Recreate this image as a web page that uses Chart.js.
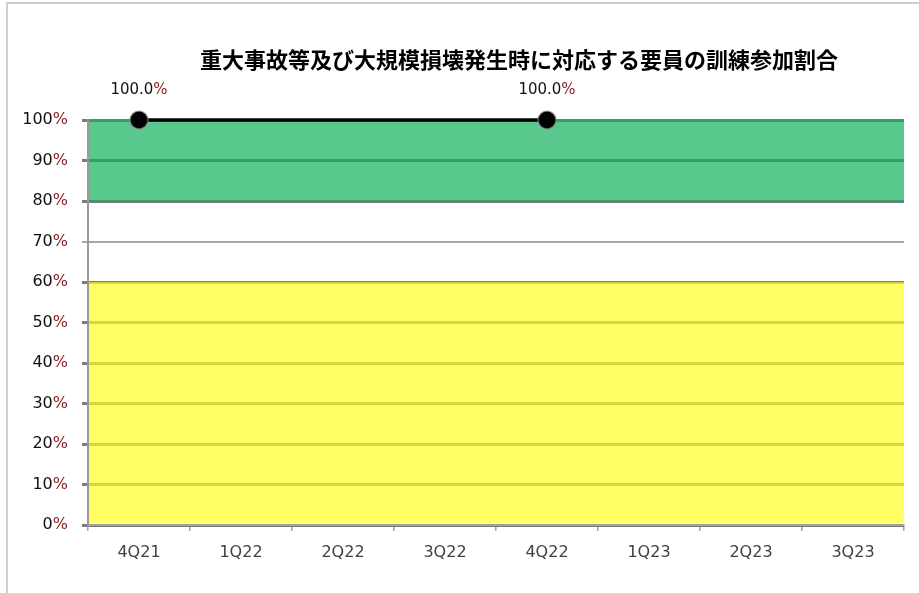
<!DOCTYPE html>
<html>
<head>
<meta charset="utf-8">
<script src="https://cdn.jsdelivr.net/npm/chart.js@4/dist/chart.umd.min.js"></script>
<style>
  html, body { margin: 0; padding: 0; background: #fff; }
  #wrap { position: relative; width: 919px; height: 593px; }
  #frame { position: absolute; left: 6px; top: 2px; right: -4px; bottom: -4px;
           border: 2px solid #cfcfcf; pointer-events: none; }
</style>
</head>
<body>
<div id="wrap">
  <canvas id="chart" width="919" height="593"></canvas>
  <div id="frame"></div>
</div>
<script>
// quarters on the x axis
var quarters = ["4Q21", "1Q22", "2Q22", "3Q22", "4Q22", "1Q23", "2Q23", "3Q23"];
// training participation rate (%), only reported quarters have a value
var participation = [100, null, null, null, 100, null, null, null];
// y tick values
var yTicks = [0, 10, 20, 30, 40, 50, 60, 70, 80, 90, 100];
// judgement bands (low / high edge in %)
var bandLow = [80, 0];
var bandHigh = [100, 60];
var bandColors = ["rgba(19,176,91,0.7)", "rgba(255,255,34,0.7)"];

var chartTitle = "重大事故等及び大規模損壊発生時に対応する要員の訓練参加割合";
var labelFont = "DejaVu Sans";
var pctRed = "#8b2323";

// draws "NN" in black and "%" in dark red, like the original sheet
function drawPct(ctx, num, x, y, align) {
    var w1 = ctx.measureText(num).width;
    var w2 = ctx.measureText("%").width;
    var start = align === "right" ? x - w1 - w2 : x - (w1 + w2) / 2;
    ctx.textAlign = "left";
    ctx.fillStyle = "#111";
    ctx.fillText(num, start, y);
    ctx.fillStyle = pctRed;
    ctx.fillText("%", start + w1, y);
}

// true when a grid value sits in the uncoloured gap between the bands
function inGap(v) {
    for (var i = 0; i < bandLow.length; i++) {
        if (v >= bandLow[i] && v <= bandHigh[i]) return false;
    }
    return true;
}

var bandsPlugin = {
    id: "bands",
    beforeDatasetsDraw: function(chart) {
        var ctx = chart.ctx, area = chart.chartArea, y = chart.scales.y;
        ctx.save();
        for (var i = 0; i < bandLow.length; i++) {
            var top = y.getPixelForValue(bandHigh[i]);
            var bot = y.getPixelForValue(bandLow[i]);
            ctx.fillStyle = bandColors[i];
            ctx.fillRect(area.left + 1, top, area.right - area.left - 1, bot - top - (bandLow[i] === 0 ? 2 : 0));
        }
        ctx.restore();
    }
};

var textPlugin = {
    id: "texts",
    afterDraw: function(chart) {
        var ctx = chart.ctx, y = chart.scales.y;
        ctx.save();
        // title
        ctx.font = "bold 22px 'Noto Sans CJK JP'";
        ctx.textAlign = "center";
        ctx.textBaseline = "middle";
        ctx.fillStyle = "#000";
        ctx.fillText(chartTitle, 519, 60);

        // y tick labels
        ctx.font = "16px '" + labelFont + "'";
        yTicks.forEach(function(v) {
            drawPct(ctx, String(v), 68, y.getPixelForValue(v), "right");
        });

        // point labels
        ctx.font = "15px '" + labelFont + "'";
        var meta = chart.getDatasetMeta(0);
        meta.data.forEach(function(pt, i) {
            if (participation[i] === null) return;
            drawPct(ctx, participation[i].toFixed(1), pt.x, pt.y - 30, "center");
        });
        ctx.restore();
    }
};

new Chart(document.getElementById("chart"), {
    type: "line",
    data: {
        labels: quarters,
        datasets: [{
            data: participation,
            spanGaps: true,
            clip: false,
            borderColor: "#000",
            borderWidth: 3.5,
            pointRadius: 9,
            pointHoverRadius: 9,
            pointBackgroundColor: "#000",
            pointBorderColor: "rgba(150,150,150,0.6)",
            pointBorderWidth: 1.5
        }]
    },
    options: {
        responsive: false,
        animation: false,
        layout: { padding: { left: 8, top: 120, right: 15, bottom: 0 } },
        plugins: {
            legend: { display: false },
            title: { display: false },
            tooltip: { enabled: false }
        },
        scales: {
            x: {
                offset: true,
                grid: { offset: true, drawOnChartArea: false, color: "#a0a0a0", lineWidth: 1.5, tickLength: 6 },
                border: { color: "#a0a0a0", width: 2 },
                ticks: { color: "#404040", font: { family: labelFont, size: 16 }, padding: 12 },
                afterFit: function(s) { s.height = 68; }
            },
            y: {
                min: 0,
                max: 100,
                afterBuildTicks: function(s) { s.ticks = yTicks.map(function(v) { return { value: v }; }); },
                grid: {
                    color: function(c) { return c.tick && inGap(c.tick.value) ? "#a6a6a6" : "#7a7a7a"; },
                    lineWidth: function(c) { return c.tick && inGap(c.tick.value) ? 2 : 3; },
                    tickLength: 6
                },
                border: { color: "#9a9a9a", width: 2 },
                ticks: { color: "rgba(0,0,0,0)", font: { family: labelFont, size: 16 } },
                afterFit: function(s) { s.width = 80; }
            }
        }
    },
    plugins: [bandsPlugin, textPlugin]
});
</script>
</body>
</html>
